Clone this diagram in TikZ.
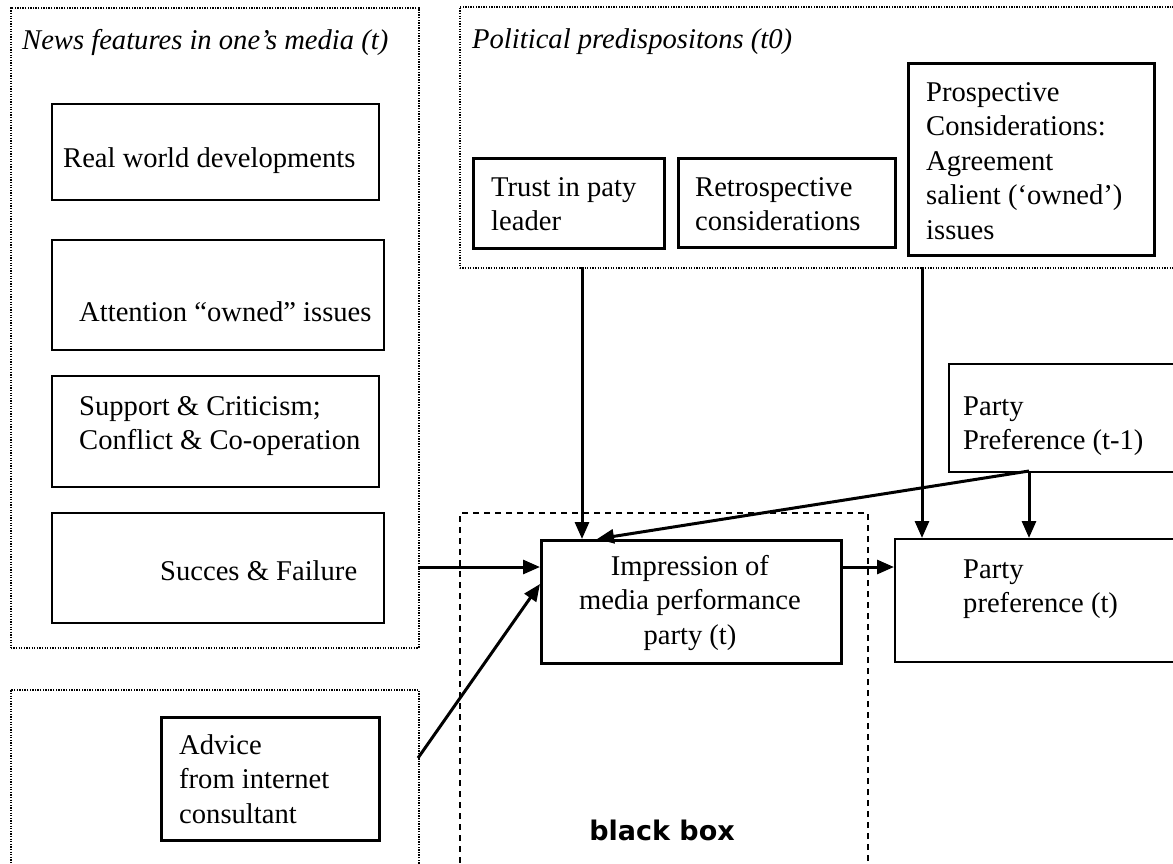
\documentclass[tikz,border=0pt]{standalone}
\usepackage{fontspec}
\setmainfont{Liberation Serif}
\newfontfamily\boxfont{DejaVu Sans}
\usetikzlibrary{arrows.meta}
\tikzset{
  frame/.style={draw, dash pattern=on 1.3pt off 1.3pt, line width=1.5pt, anchor=north west, inner sep=0pt},
  boxthick/.style={draw, line width=3pt, anchor=north west, inner sep=0pt},
  boxthin/.style={draw, line width=1.5pt, anchor=north west, inner sep=0pt},
  txt/.style={anchor=west, align=left, inner sep=0pt},
  arr/.style={line width=3pt, -{Triangle[length=17pt,width=14pt]}}
}
\begin{document}
\begin{tikzpicture}[x=1pt,y=-1pt,font=\fontsize{28.6}{34.5}\selectfont]
\useasboundingbox (0,0) rectangle (1173,863);
% frames
\node[frame, minimum width=408, minimum height=640] (nodeNews) at (10,7) {};
\node[frame, minimum width=740, minimum height=261] (nodePolit) at (459,6) {};
\node[frame, minimum width=408, minimum height=200] (nodeAdvFrame) at (10,689) {};
\node[draw, dash pattern=on 6pt off 5pt, line width=2.2pt, anchor=north west, minimum width=408, minimum height=380] (nodeBlack) at (459,512) {};
\node[txt] (titleNews) at (22,42) {\itshape News features in one’s media (t)};
\node[txt] (titlePolit) at (472,42) {\itshape Political predispositons (t0)};
% boxes
\node[boxthin, minimum width=327, minimum height=96] (nodeWorld) at (51,103) {};
\node[boxthin, minimum width=332, minimum height=110] (nodeAttention) at (51,239) {};
\node[boxthin, line width=2.2pt, minimum width=327, minimum height=111] (nodeSupport) at (51,375) {};
\node[boxthin, minimum width=332, minimum height=110] (nodeSucces) at (51,512) {};
\node[boxthick, minimum width=191, minimum height=90] (nodeTrust) at (472,157) {};
\node[boxthick, minimum width=217, minimum height=89] (nodeRetro) at (677,157) {};
\node[boxthick, minimum width=246, minimum height=192] (nodeProsp) at (907,62) {};
\node[boxthick, minimum width=300, minimum height=123] (nodeImpr) at (540,539) {};
\node[boxthin, minimum width=260, minimum height=108] (nodePrev) at (948,363) {};
\node[boxthin, minimum width=300, minimum height=123] (nodePref) at (894,538) {};
\node[boxthick, minimum width=218, minimum height=123] (nodeAdvice) at (160,716) {};
% texts
\node[txt] (textWorld) at (63,161) {Real world developments};
\node[txt] (textAttention) at (79,312) {Attention “owned” issues};
\node[txt] (textSupport) at (79,426) {Support \& Criticism;\\Conflict \& Co-operation};
\node[txt] (textSucces) at (160,571) {Succes \& Failure};
\node[txt] (textTrust) at (491,204) {Trust in paty\\leader};
\node[txt] (textRetro) at (695,204) {Retrospective\\considerations};
\node[txt] (textProsp) at (926,161) {Prospective\\Considerations:\\Agreement\\salient (‘owned’)\\issues};
\node[align=center, inner sep=0pt] (textImpr) at (690,603) {Impression of\\media performance\\party (t)};
\node[txt] (textPrev) at (963,426) {Party\\Preference (t-1)};
\node[txt] (textPref) at (963,589) {Party\\preference (t)};
\node[txt] (textAdvice) at (179,779) {Advice\\from internet\\consultant};
\node[inner sep=0pt] (textBlack) at (662,830) {\boxfont\bfseries\fontsize{27}{30}\selectfont black box};
% arrows
\coordinate (cTrust) at (582,267);
\coordinate (cProsp) at (922,267);
\coordinate (cPrev) at (1029,471);
\coordinate (cNewsOut) at (418,567);
\coordinate (cAdvOut) at (418,758);
\draw[arr] (cTrust) -- (cTrust |- nodeImpr.north);
\draw[arr] (cProsp) -- (cProsp |- nodePref.north);
\draw[arr] (cPrev) -- (cPrev |- nodePref.north);
\draw[arr] (cPrev) -- ([xshift=57pt]nodeImpr.north west);
\draw[arr] (cNewsOut) -- (cNewsOut -| nodeImpr.west);
\draw[arr] (cAdvOut) -- ([yshift=18pt]nodeImpr.west);
\draw[arr] (cNewsOut -| nodeImpr.east) -- (cNewsOut -| nodePref.west);
\end{tikzpicture}
\end{document}
